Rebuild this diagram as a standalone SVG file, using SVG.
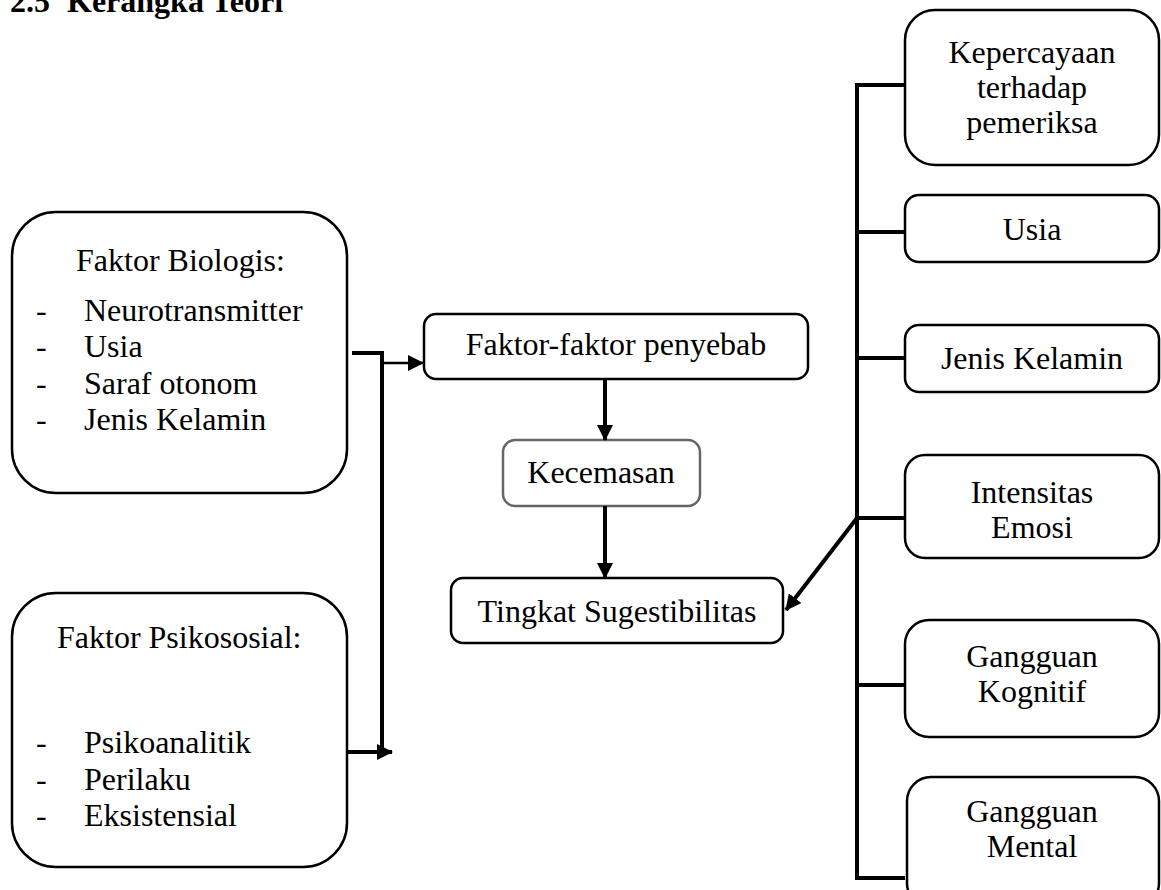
<svg xmlns="http://www.w3.org/2000/svg" width="1161" height="890" viewBox="0 0 1161 890">
<style>
text{font-family:"Liberation Serif","Times New Roman",serif;font-size:32px;fill:#000}
.c{text-anchor:middle}
.box{fill:#fff;stroke:#000;stroke-width:2.5}
.gbox{fill:#fff;stroke:#666;stroke-width:2.5}
.ln{fill:none;stroke:#000;stroke-width:4}
.thin{fill:none;stroke:#000;stroke-width:2.5}
.ttl{font-weight:bold}
</style>
<defs>
<marker id="ah" markerUnits="userSpaceOnUse" markerWidth="16" markerHeight="16" refX="15" refY="8" orient="auto">
<path d="M0,0 L16,8 L0,16 Z" fill="#000"/>
</marker>
</defs>
<text class="ttl" x="10" y="12">2.5</text>
<text class="ttl" x="67" y="12">Kerangka Teori</text>

<g id="biologis">
<rect class="box" x="12" y="212" width="335" height="281" rx="44"/>
<text x="76" y="271">Faktor Biologis:</text>
<text x="36" y="321">-</text><text x="84" y="321">Neurotransmitter</text>
<text x="36" y="357">-</text><text x="84" y="357">Usia</text>
<text x="36" y="394">-</text><text x="84" y="394">Saraf otonom</text>
<text x="36" y="430">-</text><text x="84" y="430">Jenis Kelamin</text>
</g>
<g id="psikososial">
<rect class="box" x="12" y="593" width="335" height="274" rx="44"/>
<text x="57" y="648">Faktor Psikososial:</text>
<text x="36" y="753">-</text><text x="84" y="753">Psikoanalitik</text>
<text x="36" y="790">-</text><text x="84" y="790">Perilaku</text>
<text x="36" y="826">-</text><text x="84" y="826">Eksistensial</text>
</g>
<g id="penyebab">
<rect class="box" x="424" y="314" width="384" height="65" rx="12"/>
<text class="c" x="616" y="355">Faktor-faktor penyebab</text>
</g>
<g id="kecemasan">
<rect class="gbox" x="503" y="440" width="197" height="66" rx="12"/>
<text class="c" x="601" y="483">Kecemasan</text>
</g>
<g id="tingkat">
<rect class="box" x="451" y="578" width="332" height="65" rx="12"/>
<text class="c" x="617" y="622">Tingkat Sugestibilitas</text>
</g>
<g id="kepercayaan">
<rect class="box" x="905" y="10" width="254" height="155" rx="30"/>
<text class="c" x="1032" y="63">Kepercayaan</text>
<text class="c" x="1032" y="98">terhadap</text>
<text class="c" x="1032" y="133">pemeriksa</text>
</g>
<g id="usia">
<rect class="box" x="905" y="195" width="254" height="67" rx="14"/>
<text class="c" x="1032" y="240">Usia</text>
</g>
<g id="jenis">
<rect class="box" x="905" y="325" width="254" height="67" rx="14"/>
<text class="c" x="1032" y="369">Jenis Kelamin</text>
</g>
<g id="intensitas">
<rect class="box" x="905" y="455" width="254" height="103" rx="20"/>
<text class="c" x="1032" y="503">Intensitas</text>
<text class="c" x="1032" y="538">Emosi</text>
</g>
<g id="kognitif">
<rect class="box" x="905" y="620" width="254" height="117" rx="24"/>
<text class="c" x="1032" y="667">Gangguan</text>
<text class="c" x="1032" y="702">Kognitif</text>
</g>
<g id="mental">
<rect class="box" x="907" y="777" width="252" height="130" rx="24"/>
<text class="c" x="1032" y="822">Gangguan</text>
<text class="c" x="1032" y="857">Mental</text>
</g>

<g id="connectors">
<polyline class="ln" points="352,353 382,353 382,748"/>
<line class="thin" x1="382" y1="363" x2="423" y2="363" marker-end="url(#ah)"/>
<line class="ln" x1="347" y1="752" x2="392" y2="752" marker-end="url(#ah)"/>
<line class="ln" x1="605" y1="379" x2="605" y2="440" marker-end="url(#ah)"/>
<line class="ln" x1="605" y1="506" x2="605" y2="578" marker-end="url(#ah)"/>
<polyline class="ln" points="905,85 857,85 857,878 905,878"/>
<line class="ln" x1="857" y1="232" x2="905" y2="232"/>
<line class="ln" x1="857" y1="358" x2="905" y2="358"/>
<line class="ln" x1="857" y1="518" x2="905" y2="518"/>
<line class="ln" x1="857" y1="685" x2="905" y2="685"/>
<line class="ln" x1="857" y1="518" x2="786" y2="610" marker-end="url(#ah)"/>
</g>
</svg>
